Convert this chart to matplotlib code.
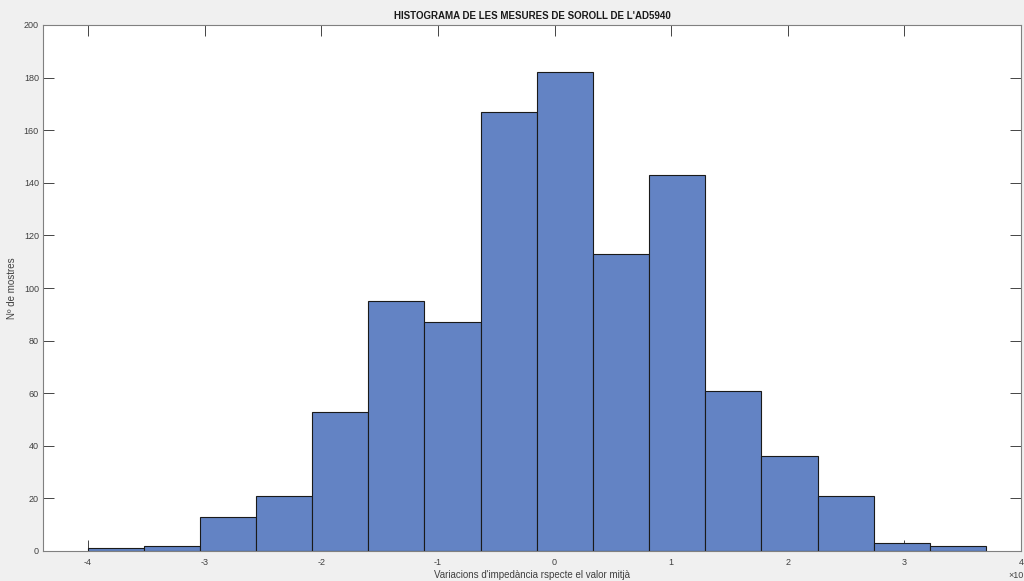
import numpy as np
import matplotlib
matplotlib.use("Agg")
import matplotlib.pyplot as plt

plt.rcParams['font.family'] = ['Liberation Sans', 'DejaVu Sans']

# Histogram data (x in units of 10^-k as displayed)
bin_start = -4.004
bin_width = 0.4815
counts = [1, 2, 13, 21, 53, 95, 87, 167, 182, 113, 143, 61, 36, 21, 3, 2]
xticks = [-4, -3, -2, -1, 0, 1, 2, 3, 4]
yticks = [0, 20, 40, 60, 80, 100, 120, 140, 160, 180, 200]

title = "HISTOGRAMA DE LES MESURES DE SOROLL DE L'AD5940"
xlabel = "Variacions d'impedància rspecte el valor mitjà"
ylabel = "Nº de mostres"

edges = bin_start + bin_width * np.arange(len(counts) + 1)

bg = '#f0f0f0'
axcol = '#262626'
fig = plt.figure(figsize=(10.24, 5.81), dpi=100, facecolor=bg)
ax = fig.add_axes([43/1024, 30/581, (1021-43)/1024, (551-25)/581])
ax.set_facecolor('white')

ax.bar(edges[:-1], counts, width=bin_width, align='edge',
       color='#6383c4', edgecolor='#1a1a1a', linewidth=0.8, zorder=2)

ax.set_xlim(-4.386, 4)
ax.set_ylim(0, 200)
ax.set_xticks(xticks)
ax.set_yticks(yticks)
ax.set_xticklabels([str(v) for v in xticks])
ax.set_yticklabels([str(v) for v in yticks])
ax.tick_params(direction='in', length=8, width=0.6, colors=axcol,
               labelcolor='#404040', labelsize=6.5, top=True, right=True)
ax.tick_params(axis='x', pad=5)
ax.tick_params(axis='y', pad=3)
for s in ax.spines.values():
    s.set_color('#808080')
    s.set_linewidth(0.8)
    s.set_zorder(3)

ax.set_title(title, fontsize=7, fontweight='bold', color='#1a1a1a', pad=4)
ax.set_xlabel(xlabel, fontsize=7, color='#404040', labelpad=2)
ax.set_ylabel(ylabel, fontsize=7, color='#404040', labelpad=5)

fig.text(1008/1024, 1 - 576/581, '×10', fontsize=6.5, color='#404040',
         ha='left', va='center')

fig.savefig('out.png', dpi=100, facecolor=bg)
